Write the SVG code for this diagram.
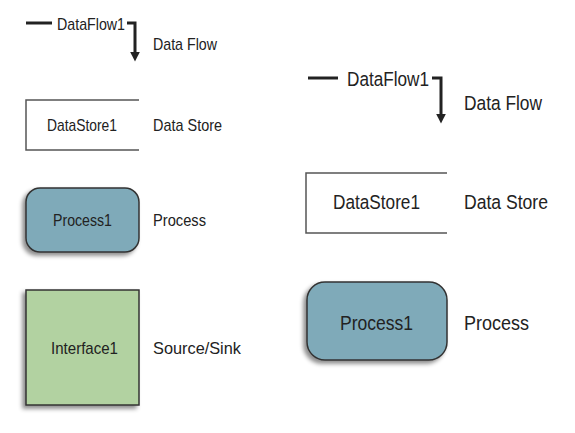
<svg xmlns="http://www.w3.org/2000/svg" width="575" height="433" viewBox="0 0 575 433">
<style>
.t{font-family:"Liberation Sans",Arial,sans-serif;fill:#222}
.s{font-size:17px}
.b{font-size:20.5px}
.flow{fill:none;stroke:#222;stroke-width:3}
.store{fill:none;stroke:#555;stroke-width:1.5}
.proc{fill:#7faab9;stroke:#333;stroke-width:1.5}
.intf{fill:#b2d2a1;stroke:#333;stroke-width:1.5}
</style>
<defs>
<filter id="sh" x="-20%" y="-20%" width="140%" height="140%">
<feDropShadow dx="-3" dy="3" stdDeviation="2" flood-color="#000" flood-opacity="0.45"/>
</filter>
<marker id="ah" viewBox="0 0 10 10" refX="0" refY="5" markerWidth="3.2" markerHeight="3.4" orient="auto" markerUnits="strokeWidth">
<path d="M0,0 L10,5 L0,10 Z" fill="#222"/>
</marker>
</defs>
<rect width="575" height="433" fill="#fff"/>
<g id="connectors">
<path class="flow" d="M26,23 H52"/>
<path class="flow" d="M127,23 H135 V52" marker-end="url(#ah)"/>
<path class="flow" d="M308,78 H338" stroke-width="3.5"/>
<path class="flow" d="M432,78 H441 V114" stroke-width="3.5" marker-end="url(#ah)"/>
</g>
<g id="dataflow-left">
<text class="t s" x="57" y="30" textLength="68" lengthAdjust="spacingAndGlyphs">DataFlow1</text>
<text class="t s" x="153" y="50" textLength="64" lengthAdjust="spacingAndGlyphs">Data Flow</text>
</g>
<g id="datastore-left">
<path class="store" d="M139,100 H26 V150 H139"/>
<text class="t s" x="47" y="131" textLength="70" lengthAdjust="spacingAndGlyphs">DataStore1</text>
<text class="t s" x="153" y="131" textLength="69" lengthAdjust="spacingAndGlyphs">Data Store</text>
</g>
<g id="process-left">
<rect class="proc" x="26" y="188" width="113" height="64" rx="14" filter="url(#sh)"/>
<text class="t s" x="53" y="226" textLength="59" lengthAdjust="spacingAndGlyphs">Process1</text>
<text class="t s" x="153" y="226" textLength="53" lengthAdjust="spacingAndGlyphs">Process</text>
</g>
<g id="interface-left">
<rect class="intf" x="26" y="290" width="113" height="115" filter="url(#sh)"/>
<text class="t s" x="51" y="354" textLength="67" lengthAdjust="spacingAndGlyphs">Interface1</text>
<text class="t s" x="153" y="354" textLength="88" lengthAdjust="spacingAndGlyphs">Source/Sink</text>
</g>
<g id="dataflow-right">
<text class="t b" x="347" y="86" textLength="82" lengthAdjust="spacingAndGlyphs">DataFlow1</text>
<text class="t b" x="464" y="110" textLength="78" lengthAdjust="spacingAndGlyphs">Data Flow</text>
</g>
<g id="datastore-right">
<path class="store" d="M447,173 H306 V233 H447"/>
<text class="t b" x="333" y="209" textLength="87" lengthAdjust="spacingAndGlyphs">DataStore1</text>
<text class="t b" x="464" y="209" textLength="84" lengthAdjust="spacingAndGlyphs">Data Store</text>
</g>
<g id="process-right">
<rect class="proc" x="307" y="282" width="140" height="78" rx="18" filter="url(#sh)"/>
<text class="t b" x="340" y="330" textLength="73" lengthAdjust="spacingAndGlyphs">Process1</text>
<text class="t b" x="464" y="330" textLength="65" lengthAdjust="spacingAndGlyphs">Process</text>
</g>
</svg>
